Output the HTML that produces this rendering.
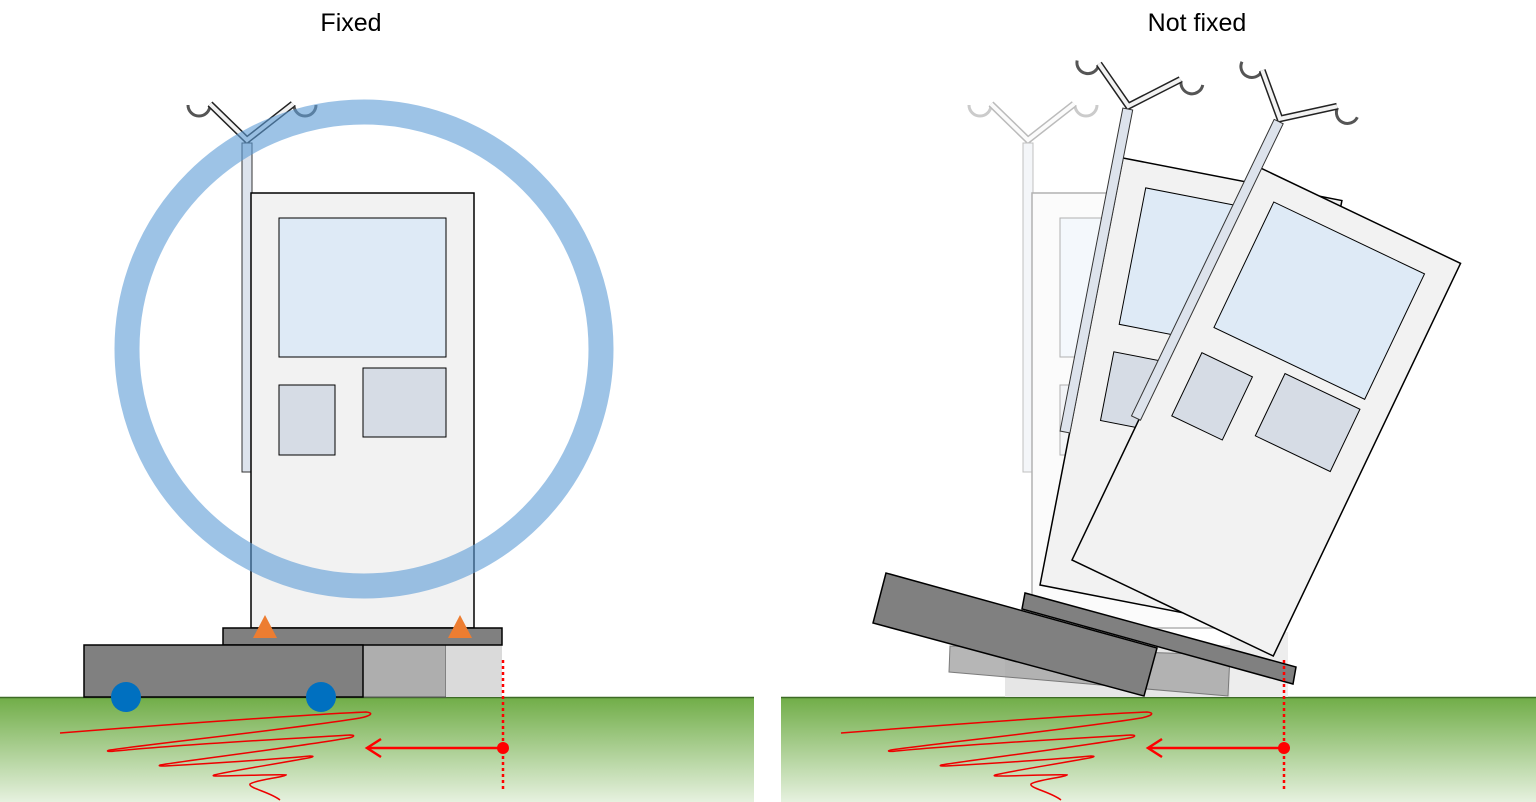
<!DOCTYPE html>
<html><head><meta charset="utf-8"><style>
html,body{margin:0;padding:0;background:#fff;}
svg{display:block;}
text{font-family:"Liberation Sans",sans-serif;}
</style></head><body>
<svg width="1536" height="802" viewBox="0 0 1536 802" xmlns="http://www.w3.org/2000/svg">
<defs>
<linearGradient id="g" x1="0" y1="0" x2="0" y2="1">
<stop offset="0" stop-color="#70ad47"/><stop offset="1" stop-color="#e6f1df"/>
</linearGradient>
<g id="pole">
  <path d="M188,105 a11,11 0 0 0 22,0" fill="none" stroke="#555" stroke-width="3"/>
  <path d="M294,105 a11,11 0 0 0 22,0" fill="none" stroke="#555" stroke-width="3"/>
  <path d="M210,104 L247,140 L293,104" fill="none" stroke="#222" stroke-width="7"/>
  <path d="M210,104 L247,140 L293,104" fill="none" stroke="#f2f2f2" stroke-width="4"/>
  <rect x="242" y="143" width="10" height="329" fill="#dde3ec" stroke="#333" stroke-width="1"/>
</g>
<g id="cab">
  <rect x="251" y="193" width="223" height="435" fill="#f2f2f2" stroke="#000" stroke-width="1.5"/>
  <rect x="279" y="218" width="167" height="139" fill="#deeaf6" stroke="#000" stroke-width="1"/>
  <rect x="279" y="385" width="56" height="70" fill="#d6dce5" stroke="#000" stroke-width="1"/>
  <rect x="363" y="368" width="83" height="69" fill="#d6dce5" stroke="#000" stroke-width="1"/>
</g>
<g id="base">
  <rect x="363" y="645" width="83" height="52" fill="#aeaeae" stroke="#555" stroke-width="1"/>
  <rect x="446" y="645" width="56" height="52" fill="#dadada"/>
  <rect x="223" y="628" width="279" height="17" fill="#808080" stroke="#000" stroke-width="1.5"/>
  <rect x="84" y="645" width="279" height="52" fill="#808080" stroke="#000" stroke-width="1.5"/>
</g>
<g id="red">
  <path d="M60,733 C200,722 320,714 366,712 C375,713 370,716 360,718 C300,728 150,744 110,750 C105,751 108,752 115,751 C200,743 320,737 350,735 C356,735 354,737 348,738 C290,748 190,760 160,765 C158,766 160,766 165,766 C220,763 290,758 310,756 C315,756 313,757 308,758 C270,765 230,771 214,775 C212,776 214,776 218,776 C240,776 280,774 286,775 C285,777 255,780 250,784 C248,788 270,792 280,800" fill="none" stroke="#e00" stroke-width="1.5"/>
  <line x1="503" y1="660" x2="503" y2="790" stroke="#f00" stroke-width="2.5" stroke-dasharray="3,3"/>
  <line x1="503" y1="748" x2="368" y2="748" stroke="#f00" stroke-width="2.5"/>
  <path d="M381,739 L367,748 L381,757" fill="none" stroke="#f00" stroke-width="2.5"/>
  <circle cx="503" cy="748" r="6" fill="#f00"/>
</g>
</defs>

<text x="351" y="31" font-size="25" text-anchor="middle" fill="#000">Fixed</text>
<text x="1197" y="31" font-size="25" text-anchor="middle" fill="#000">Not fixed</text>

<rect x="0" y="697" width="754" height="105" fill="url(#g)"/>
<rect x="781" y="697" width="755" height="105" fill="url(#g)"/>
<line x1="0" y1="697.5" x2="754" y2="697.5" stroke="#3d6b26" stroke-width="1.5"/>
<line x1="781" y1="697.5" x2="1536" y2="697.5" stroke="#3d6b26" stroke-width="1.5"/>

<use href="#pole"/>
<use href="#cab"/>
<use href="#base"/>
<circle cx="126" cy="697" r="15" fill="#0070c0"/>
<circle cx="321" cy="697" r="15" fill="#0070c0"/>
<polygon points="265,615 253,638 277,638" fill="#ed7d31"/>
<polygon points="460,615 448,638 472,638" fill="#ed7d31"/>
<circle cx="364" cy="349" r="237" fill="none" stroke="#5b9bd5" stroke-opacity="0.6" stroke-width="25"/>
<use href="#red"/>

<g opacity="0.3" transform="translate(781,0)">
  <use href="#pole"/>
  <use href="#cab"/>
</g>
<rect x="1005" y="645" width="225" height="52" fill="#e6e6e6"/>
<rect x="1230" y="632" width="58" height="65" fill="#ededed"/>
<g transform="translate(1040,585) rotate(11) translate(-251,-628)"><use href="#cab"/></g>
<g transform="translate(1065,432) rotate(11) translate(-247,-472)"><use href="#pole"/></g>
<g transform="translate(1072,560) rotate(25.5) translate(-251,-628)"><use href="#cab"/></g>
<g transform="translate(1136,418) rotate(25.7) translate(-247,-472)"><use href="#pole"/></g>
<polygon points="950,646 949,672 1228,696 1230,655" fill="#aaa" stroke="#666" stroke-width="1" opacity="0.85"/>
<polygon points="1025,593 1022,609 1293,684 1296,667" fill="#808080" stroke="#000" stroke-width="1.5"/>
<polygon points="886,573 873,623 1144,696 1157,648" fill="#808080" stroke="#000" stroke-width="1.5"/>
<g transform="translate(781,0)"><use href="#red"/></g>
</svg>
</body></html>
